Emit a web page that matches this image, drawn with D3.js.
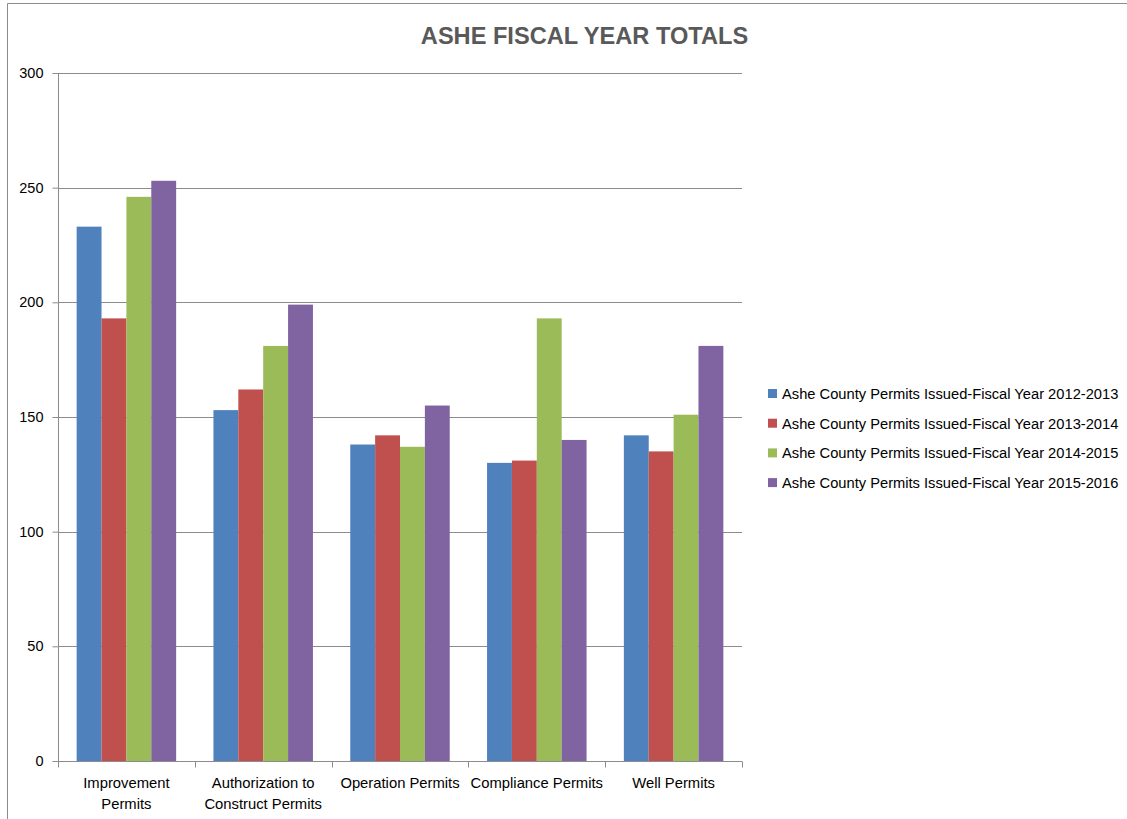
<!DOCTYPE html>
<html><head><meta charset="utf-8">
<script src="https://cdn.jsdelivr.net/npm/d3@7"></script>
<style>body{margin:0;background:#fff}svg{display:block;font-family:"Liberation Sans",Arial,sans-serif}</style>
</head><body>
<svg id="c" width="1127" height="819"></svg>
<script>
const categories = [["Improvement","Permits"],["Authorization to","Construct Permits"],["Operation Permits"],["Compliance Permits"],["Well Permits"]];
const seriesNames = ["Ashe County Permits Issued-Fiscal Year 2012-2013","Ashe County Permits Issued-Fiscal Year 2013-2014","Ashe County Permits Issued-Fiscal Year 2014-2015","Ashe County Permits Issued-Fiscal Year 2015-2016"];
const fy1213 = [233,153,138,130,142];
const fy1314 = [193,162,142,131,135];
const fy1415 = [246,181,137,193,151];
const fy1516 = [253,199,155,140,181];
const yTicks = [0,50,100,150,200,250,300];
const colors = ["#4f81bd","#c0504d","#9bbb59","#8064a2"];
const series = [fy1213,fy1314,fy1415,fy1516];

const svg = d3.select("#c");
svg.append("path").attr("d","M7.5,819 V3.5 H1127").attr("fill","none").attr("stroke","#8c8c8c").attr("stroke-width",1);

const L=58,R=742,T=73,B=761;
const x = d3.scaleBand().domain(d3.range(categories.length)).range([L,R]);
const bw = x.bandwidth()/5.5;
const xi = d3.scaleBand().domain(d3.range(4)).range([0,bw*4]);
const y = d3.scaleLinear().domain([0,300]).range([B,T]);

svg.append("g").selectAll("line").data(yTicks.filter(d=>d>0)).join("line")
  .attr("x1",L).attr("x2",R).attr("y1",d=>Math.round(y(d))+0.5).attr("y2",d=>Math.round(y(d))+0.5)
  .attr("stroke","#8c8c8c").attr("stroke-width",1);

const g = svg.append("g");
series.forEach((s,si)=>{
  g.selectAll(null).data(s).join("rect")
    .attr("x",(d,i)=>x(i)+bw*0.75+xi(si))
    .attr("width",xi.bandwidth())
    .attr("y",d=>y(d)).attr("height",d=>B-y(d))
    .attr("fill",colors[si]);
});

const ya = svg.append("g").attr("transform",`translate(${L+0.5},0)`)
  .call(d3.axisLeft(y).tickValues(yTicks).tickSize(6).tickPadding(9));
ya.select(".domain").attr("stroke","#8c8c8c").attr("d",`M0,${T}V${B}`);
ya.selectAll(".tick line").attr("stroke","#8c8c8c");
ya.selectAll("text").attr("font-size",14.5).attr("fill","#000").attr("font-family","Liberation Sans, Arial, sans-serif");

const xa = svg.append("g").attr("transform",`translate(0,${B+0.5})`);
xa.append("line").attr("x1",L).attr("x2",R).attr("stroke","#8c8c8c");
const bounds = d3.range(categories.length+1).map(i=>L+i*x.step());
xa.selectAll(".tk").data(bounds).join("line").attr("x1",d=>Math.round(d)+0.5).attr("x2",d=>Math.round(d)+0.5).attr("y1",0).attr("y2",6).attr("stroke","#8c8c8c");
categories.forEach((lines,i)=>{
  const t = xa.append("text").attr("text-anchor","middle").attr("font-size",14.8).attr("fill","#000")
    .attr("x",x(i)+x.bandwidth()/2).attr("y",26);
  lines.forEach((ln,j)=>t.append("tspan").attr("x",x(i)+x.bandwidth()/2).attr("dy",j?21:0).text(ln));
});

svg.append("text").attr("x",584.5).attr("y",44).attr("text-anchor","middle")
  .attr("font-size",23.6).attr("font-weight","bold").attr("fill","#595959").text("ASHE FISCAL YEAR TOTALS");

const lg = svg.append("g").attr("transform","translate(768,394)");
seriesNames.forEach((n,i)=>{
  const row = lg.append("g").attr("transform",`translate(0,${i*29.7})`);
  row.append("rect").attr("x",0).attr("y",-5).attr("width",9).attr("height",9).attr("fill",colors[i]);
  row.append("text").attr("x",14).attr("y",5).attr("font-size",14.7).attr("fill","#000").text(n);
});
</script>
</body></html>
